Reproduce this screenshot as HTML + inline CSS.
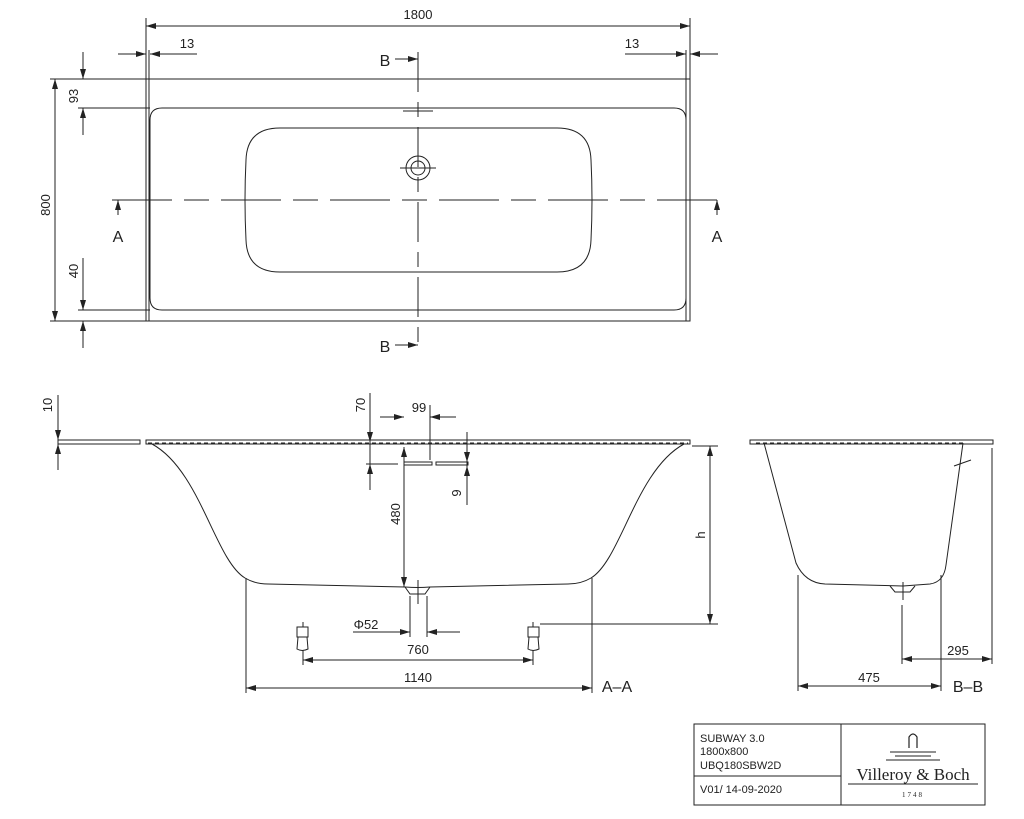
<!DOCTYPE html>
<html><head><style>
html,body{margin:0;padding:0;background:#fff;}
svg{display:block;}
text{font-family:"Liberation Sans",sans-serif;fill:#222;}
</style></head><body>
<svg width="1024" height="819" viewBox="0 0 1024 819" xmlns="http://www.w3.org/2000/svg">
<defs>
<marker id="a" viewBox="0 0 10 6" refX="10" refY="3" markerWidth="10" markerHeight="6" orient="auto-start-reverse" markerUnits="userSpaceOnUse"><path d="M0,0 L10,3 L0,6z" fill="#222"/></marker>
</defs>
<g stroke="#222" stroke-width="1" fill="none">
<!-- TOP VIEW -->
<rect x="146" y="79" width="544" height="242"/>
<line x1="149" y1="50" x2="149" y2="321"/>
<line x1="686" y1="50" x2="686" y2="321"/>
<path d="M162,108 H674 Q686,108 686,120 V298 Q686,310 674,310 H162 Q150,310 150,298 V120 Q150,108 162,108z"/>
<path d="M280,128 H557 Q590,128 591,160 Q593,200 591,240 Q590,272 557,272 H280 Q247,272 246,240 Q244,200 246,160 Q247,128 280,128z"/>
<line x1="112" y1="200" x2="722" y2="200" stroke-dasharray="60,12,25,12"/>
<line x1="418" y1="52" x2="418" y2="352" stroke-dasharray="40,10,15,10"/>
<line x1="403" y1="111" x2="433" y2="111"/>
<circle cx="418" cy="168" r="12"/><circle cx="418" cy="168" r="7"/>
<line x1="400" y1="168" x2="436" y2="168"/>
<line x1="146" y1="18" x2="146" y2="79"/><line x1="690" y1="18" x2="690" y2="79"/>
<line x1="146" y1="26" x2="690" y2="26" marker-start="url(#a)" marker-end="url(#a)"/>
<line x1="118" y1="54" x2="146" y2="54" marker-end="url(#a)"/><line x1="197" y1="54" x2="150" y2="54" marker-end="url(#a)"/>
<line x1="718" y1="54" x2="690" y2="54" marker-end="url(#a)"/><line x1="625" y1="54" x2="686" y2="54" marker-end="url(#a)"/>
<line x1="50" y1="79" x2="146" y2="79"/><line x1="50" y1="321" x2="146" y2="321"/>
<line x1="78" y1="108" x2="150" y2="108"/><line x1="78" y1="310" x2="150" y2="310"/>
<line x1="55" y1="79" x2="55" y2="321" marker-start="url(#a)" marker-end="url(#a)"/>
<line x1="83" y1="52" x2="83" y2="79" marker-end="url(#a)"/><line x1="83" y1="135" x2="83" y2="108" marker-end="url(#a)"/>
<line x1="83" y1="258" x2="83" y2="310" marker-end="url(#a)"/><line x1="83" y1="348" x2="83" y2="321" marker-end="url(#a)"/>
<line x1="395" y1="59" x2="418" y2="59" marker-end="url(#a)"/>
<line x1="395" y1="345" x2="418" y2="345" marker-end="url(#a)"/>
<line x1="118" y1="215" x2="118" y2="200" marker-end="url(#a)"/>
<line x1="717" y1="215" x2="717" y2="200" marker-end="url(#a)"/>
<!-- SIDE A-A -->
<rect x="146" y="440" width="544" height="4"/>
<rect x="58" y="440" width="82" height="4"/>
<line x1="148" y1="443" x2="688" y2="443" stroke-dasharray="4,3"/>
<path d="M152,444 C200,470 215,560 245,578 Q255,584 268,584 L405,587 Q418,588 430,587 L568,584 Q581,584 591,578 C621,560 636,470 684,444"/>
<path d="M405,587 L410,594 H425 L430,587"/>
<line x1="418" y1="580" x2="418" y2="604"/>
<rect x="297" y="627" width="11" height="10"/><path d="M298,637 L297,649 Q302,652 308,649 L307,637"/>
<rect x="528" y="627" width="11" height="10"/><path d="M529,637 L528,649 Q533,652 539,649 L538,637"/>
<line x1="303" y1="622" x2="303" y2="627"/><line x1="533" y1="622" x2="533" y2="627"/>
<line x1="692" y1="446" x2="718" y2="446"/>
<line x1="540" y1="624" x2="718" y2="624"/>
<line x1="710" y1="446" x2="710" y2="624" marker-start="url(#a)" marker-end="url(#a)"/>
<line x1="246" y1="578" x2="246" y2="693"/><line x1="592" y1="578" x2="592" y2="693"/>
<line x1="246" y1="688" x2="592" y2="688" marker-start="url(#a)" marker-end="url(#a)"/>
<line x1="303" y1="650" x2="303" y2="665"/><line x1="533" y1="650" x2="533" y2="665"/>
<line x1="303" y1="660" x2="533" y2="660" marker-start="url(#a)" marker-end="url(#a)"/>
<line x1="410" y1="596" x2="410" y2="637"/><line x1="427" y1="596" x2="427" y2="637"/>
<line x1="353" y1="632" x2="410" y2="632" marker-end="url(#a)"/><line x1="460" y1="632" x2="427" y2="632" marker-end="url(#a)"/>
<line x1="404" y1="447" x2="404" y2="587" marker-start="url(#a)" marker-end="url(#a)"/>
<line x1="370" y1="393" x2="370" y2="472"/>
<line x1="370" y1="420" x2="370" y2="442" marker-end="url(#a)"/>
<line x1="370" y1="490" x2="370" y2="464" marker-end="url(#a)"/>
<line x1="366" y1="464" x2="398" y2="464"/>
<rect x="404" y="462" width="28" height="3"/><rect x="436" y="462" width="32" height="3"/>
<line x1="430" y1="405" x2="430" y2="460"/>
<line x1="380" y1="417" x2="404" y2="417" marker-end="url(#a)"/><line x1="456" y1="417" x2="430" y2="417" marker-end="url(#a)"/>
<line x1="467" y1="432" x2="467" y2="505"/>
<line x1="467" y1="440" x2="467" y2="462" marker-end="url(#a)"/>
<line x1="467" y1="490" x2="467" y2="466" marker-end="url(#a)"/>
<line x1="58" y1="395" x2="58" y2="470"/>
<line x1="58" y1="425" x2="58" y2="440" marker-end="url(#a)"/>
<line x1="58" y1="463" x2="58" y2="444" marker-end="url(#a)"/>
<!-- SIDE B-B -->
<rect x="750" y="440" width="243" height="4"/>
<line x1="756" y1="443" x2="966" y2="443" stroke-dasharray="4,3"/>
<path d="M764,443 L796,563 Q805,583 825,584 L903,586 L930,584 Q944,582 946,565 L963,443"/>
<path d="M890,586 L895,592 H910 L915,586"/>
<line x1="903" y1="582" x2="903" y2="600"/>
<line x1="954" y1="466" x2="971" y2="460"/>
<line x1="798" y1="575" x2="798" y2="691"/><line x1="941" y1="575" x2="941" y2="691"/>
<line x1="902" y1="605" x2="902" y2="664"/><line x1="992" y1="448" x2="992" y2="664"/>
<line x1="902" y1="659" x2="992" y2="659" marker-start="url(#a)" marker-end="url(#a)"/>
<line x1="798" y1="686" x2="941" y2="686" marker-start="url(#a)" marker-end="url(#a)"/>
<!-- TITLE BLOCK -->
<rect x="694" y="724" width="291" height="81"/>
<line x1="841" y1="724" x2="841" y2="805"/>
<line x1="694" y1="776" x2="841" y2="776"/>
<path d="M909,748 V737 Q913,731 917,737 V748" stroke-width="1.2"/>
<line x1="890" y1="752" x2="936" y2="752"/><line x1="895" y1="756" x2="931" y2="756"/><line x1="886" y1="760" x2="940" y2="760"/>
<line x1="848" y1="784" x2="978" y2="784"/>
</g>
<g font-size="13">
<text x="418" y="19" text-anchor="middle">1800</text>
<text x="187" y="48" text-anchor="middle">13</text>
<text x="632" y="48" text-anchor="middle">13</text>
<text x="385" y="66" text-anchor="middle" font-size="16">B</text>
<text x="385" y="352" text-anchor="middle" font-size="16">B</text>
<text x="118" y="242" text-anchor="middle" font-size="16">A</text>
<text x="717" y="242" text-anchor="middle" font-size="16">A</text>
<text transform="translate(50,205) rotate(-90)" text-anchor="middle">800</text>
<text transform="translate(78,96) rotate(-90)" text-anchor="middle">93</text>
<text transform="translate(78,271) rotate(-90)" text-anchor="middle">40</text>
<text transform="translate(52,405) rotate(-90)" text-anchor="middle">10</text>
<text transform="translate(365,405) rotate(-90)" text-anchor="middle">70</text>
<text x="419" y="412" text-anchor="middle">99</text>
<text transform="translate(461,493) rotate(-90)" text-anchor="middle">9</text>
<text transform="translate(400,514) rotate(-90)" text-anchor="middle">480</text>
<text transform="translate(705,535) rotate(-90)" text-anchor="middle">h</text>
<text x="366" y="629" text-anchor="middle">Φ52</text>
<text x="418" y="654" text-anchor="middle">760</text>
<text x="418" y="682" text-anchor="middle">1140</text>
<text x="617" y="692" text-anchor="middle" font-size="16">A–A</text>
<text x="958" y="655" text-anchor="middle">295</text>
<text x="869" y="682" text-anchor="middle">475</text>
<text x="968" y="692" text-anchor="middle" font-size="16">B–B</text>
</g>
<g font-size="11">
<text x="700" y="742">SUBWAY 3.0</text>
<text x="700" y="755">1800x800</text>
<text x="700" y="769">UBQ180SBW2D</text>
<text x="700" y="793">V01/ 14-09-2020</text>
</g>
<text x="913" y="780" text-anchor="middle" font-family="Liberation Serif,serif" font-size="17" style="font-family:'Liberation Serif',serif">Villeroy &amp; Boch</text>
<text x="913" y="797" text-anchor="middle" font-size="7" letter-spacing="2" style="font-family:'Liberation Serif',serif">1748</text>
</svg>
</body></html>
